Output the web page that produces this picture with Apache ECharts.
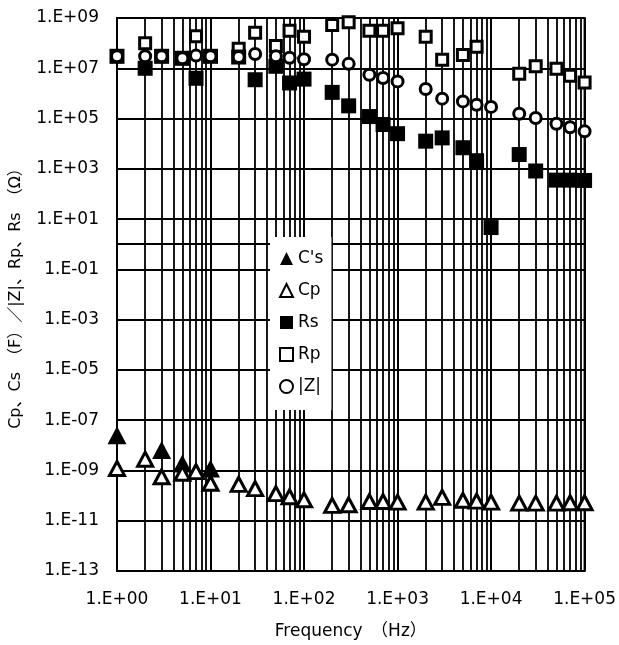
<!DOCTYPE html>
<html><head><meta charset="utf-8">
<script src="https://cdn.jsdelivr.net/npm/echarts@6/dist/echarts.min.js"></script>
<style>html,body{margin:0;padding:0;background:#fff}#c{width:619px;height:645px}</style>
</head><body><div id="c"></div>
<script>
// Frequency (Hz)
const freq = [1,2,3,5,7,10,20,30,50,70,100,200,300,500,700,1000,2000,3000,5000,7000,10000,20000,30000,50000,70000,100000];
// C's (F)
const Cs = [2.5e-8,null,6.5e-9,1.9e-9,null,1.2e-9,null,null,null,null,null,null,null,null,null,null,null,null,null,null,null,null,null,null,null,null];
// Cp (F)
const Cp = [1.2e-9,2.8e-9,5.6e-10,7.7e-10,9e-10,3.1e-10,2.8e-10,1.9e-10,1.2e-10,9e-11,6.8e-11,4.1e-11,4.3e-11,5.8e-11,5.8e-11,5.5e-11,5.5e-11,8.5e-11,6.5e-11,6e-11,5.5e-11,5e-11,5e-11,5e-11,5.2e-11,5.2e-11];
// Rs (Ohm)
const Rs = [3e7,1e7,3e7,2.5e7,4e6,3e7,2.8e7,3.5e6,1.2e7,2.6e6,3.7e6,1.1e6,3.2e5,1.2e5,5.8e4,2.5e4,1.26e4,1.7e4,6.9e3,2.1e3,4.6,3.7e3,820,355,355,345];
// Rp (Ohm)
const Rp = [3e7,1e8,3e7,2.5e7,1.9e8,3e7,6e7,2.6e8,7.7e7,3.1e8,1.8e8,5.3e8,6.8e8,3.1e8,3.1e8,3.9e8,1.8e8,2.2e7,3.4e7,7.2e7,null,6e6,1.2e7,9.5e6,5e6,2.7e6];
// |Z| (Ohm)
const Z = [3e7,3e7,3e7,2.5e7,3.2e7,3e7,2.8e7,3.7e7,3e7,2.6e7,2.3e7,2.2e7,1.5e7,5.5e6,4.1e6,3e6,1.5e6,6.2e5,4.8e5,3.5e5,2.9e5,1.55e5,1.05e5,6.2e4,4.5e4,3.1e4];
// tick labels
const xTickLabels = ['1.E+00','1.E+01','1.E+02','1.E+03','1.E+04','1.E+05'];
const yTickLabels = ['1.E-13','1.E-11','1.E-09','1.E-07','1.E-05','1.E-03','1.E-01','1.E+01','1.E+03','1.E+05','1.E+07','1.E+09'];
const yExpMin = -13, yExpMax = 9, yStep = 2;

const FONT = "'DejaVu Sans','Noto Sans CJK JP',sans-serif";

function pts(vals){
  const out = [];
  freq.forEach((f,i)=>{ if(vals[i]!=null) out.push([f, Math.log10(vals[i])]); });
  return out;
}
// minor vertical grid positions (2..9 x each decade)
const minorX = [];
for (let d=0; d<xTickLabels.length-1; d++) for (let m=2; m<=9; m++) minorX.push(m*Math.pow(10,d));

const chart = echarts.init(document.getElementById('c'), null, {renderer:'canvas'});
const openStyle = {color:'#fff', borderColor:'#000', borderWidth:3, opacity:1};
chart.setOption({
  animation:false,
  backgroundColor:'#fff',
  textStyle:{fontFamily:FONT},
  grid:{left:117, right:29, top:18, bottom:72, show:true, borderColor:'#000', borderWidth:2, backgroundColor:'transparent'},
  legend:{
    orient:'vertical', left:270, top:237, backgroundColor:'#fff', padding:[12,8,14,9], z:20,
    itemGap:13, itemWidth:13, itemHeight:13,
    textStyle:{fontSize:17, color:'#000', fontFamily:"'DejaVu Sans',sans-serif", lineHeight:19},
    data:["C's",'Cp','Rs','Rp','|Z|'], selectedMode:false
  },
  xAxis:{
    type:'log', logBase:10, min:1, max:1e5,
    name:'Frequency　（Hz）', nameLocation:'middle', nameGap:52,
    nameTextStyle:{fontSize:17, color:'#000', fontFamily:FONT},
    axisLine:{show:true, lineStyle:{color:'#000', width:2}},
    axisTick:{show:false},
    axisLabel:{margin:20, fontSize:17, color:'#000', fontFamily:FONT,
      formatter:v=>xTickLabels[Math.round(Math.log10(v))]},
    splitLine:{show:true, lineStyle:{color:'#000', width:2}}
  },
  yAxis:{
    type:'value', min:yExpMin, max:yExpMax, interval:yStep,
    name:'Cp、Cs　（F）／|Z|、Rp、Rs　（Ω）', nameLocation:'middle', nameGap:93,
    nameTextStyle:{fontSize:16, color:'#000', fontFamily:FONT},
    axisLine:{show:true, lineStyle:{color:'#000', width:2}},
    axisTick:{show:false},
    axisLabel:{margin:18, fontSize:17, color:'#000', fontFamily:FONT,
      formatter:v=>yTickLabels[Math.round((v-yExpMin)/yStep)]},
    splitLine:{show:true, lineStyle:{color:'#000', width:2}}
  },
  series:[
    {type:'line', name:'grid', data:[], silent:true, z:1,
      markLine:{silent:true, symbol:'none', label:{show:false}, animation:false, z:1,
        lineStyle:{color:'#000', width:1.8, type:'solid', opacity:1},
        emphasis:{disabled:true},
        data:minorX.map(v=>({xAxis:v}))}},
    {type:'scatter', name:'Rp', data:pts(Rp), symbol:'rect', symbolSize:11, itemStyle:openStyle, z:3, silent:true},
    {type:'scatter', name:'Rs', data:pts(Rs), symbol:'rect', symbolSize:15, itemStyle:{color:'#000', opacity:1}, z:3, silent:true},
    {type:'scatter', name:'|Z|', data:pts(Z), symbol:'circle', symbolSize:11, itemStyle:openStyle, z:3, silent:true},
    {type:'scatter', name:"C's", data:pts(Cs), symbol:'triangle', symbolSize:[19,18], itemStyle:{color:'#000', opacity:1}, z:3, silent:true},
    {type:'scatter', name:'Cp', data:pts(Cp), symbol:'triangle', symbolSize:[15,14], itemStyle:openStyle, z:3, silent:true}
  ]
});
</script></body></html>
